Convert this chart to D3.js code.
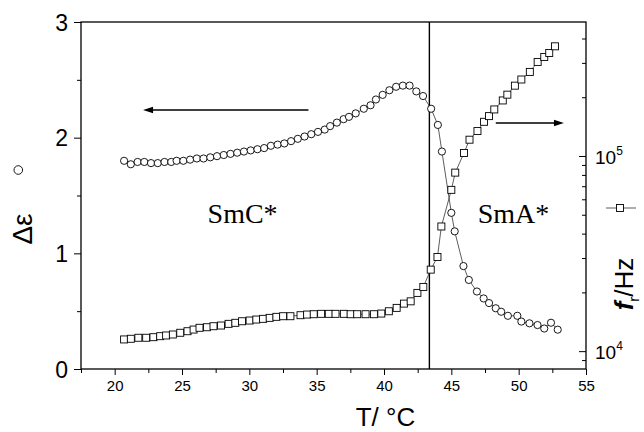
<!DOCTYPE html>
<html>
<head>
<meta charset="utf-8">
<script src="https://cdn.jsdelivr.net/npm/d3@7"></script>
<style>
  html, body { margin: 0; padding: 0; background: #fff; }
  svg { display: block; }
</style>
</head>
<body>
<svg id="chart"></svg>
<script>
// Dielectric strength (circles, left axis) vs temperature
const epsT = [20.7, 21.2, 21.7, 22.2, 22.7, 23.2, 23.7, 24.2, 24.6, 25.1, 25.6, 26.1, 26.6, 27.1,
    27.6, 28.1, 28.6, 29.1, 29.6, 30.1, 30.6, 31.1, 31.6, 32.1, 32.6, 33.1, 33.6, 34.1, 34.6,
    35.1, 35.6, 36.0, 36.5, 37.0, 37.4, 37.9, 38.5, 39.0, 39.4, 39.9, 40.4, 40.9, 41.4, 41.9,
    42.4, 42.9, 43.5, 44.0, 44.3, 45.0, 45.25, 45.9, 46.3, 46.9, 47.4, 47.8, 48.3, 48.7, 49.2,
    49.9, 50.2, 50.8, 51.4, 51.9, 52.4, 52.9];
const epsVal = [1.80, 1.77, 1.79, 1.79, 1.78, 1.78, 1.79, 1.79, 1.80, 1.80, 1.81, 1.82, 1.82, 1.83,
    1.84, 1.85, 1.86, 1.87, 1.88, 1.89, 1.90, 1.91, 1.93, 1.94, 1.95, 1.97, 1.99, 2.01, 2.03,
    2.05, 2.07, 2.10, 2.13, 2.16, 2.18, 2.21, 2.25, 2.28, 2.33, 2.37, 2.41, 2.44, 2.45, 2.45,
    2.40, 2.36, 2.25, 2.11, 1.88, 1.35, 1.19, 0.89, 0.77, 0.67, 0.61, 0.57, 0.525, 0.495, 0.46,
    0.46, 0.41, 0.395, 0.38, 0.35, 0.40, 0.34];

// Relaxation frequency (squares, right log axis) vs temperature
const frT = [20.7, 21.2, 21.76, 22.34, 22.88, 23.38, 23.82, 24.32, 24.87, 25.41, 25.86, 26.3, 26.85,
    27.34, 27.9, 28.46, 28.96, 29.46, 30.02, 30.52, 31.02, 31.51, 32.01, 32.51, 33.05, 33.8, 34.29,
    34.78, 35.33, 35.9, 36.4, 37.02, 37.52, 38.01, 38.63, 39.25, 39.8, 40.36, 40.94, 41.48, 41.98,
    42.48, 42.92, 43.47, 43.97, 44.26, 45.0, 45.29, 45.94, 46.35, 46.94, 47.43, 47.8, 48.19, 48.82,
    49.16, 49.72, 50.2, 50.83, 51.41, 51.9, 52.27, 52.7];
const frVal = [11480, 11570, 11710, 11710, 11790, 11930, 12030, 12170, 12420, 12650, 12900, 13170, 13260,
    13420, 13530, 13800, 13970, 14230, 14350, 14520, 14640, 14810, 14990, 15100, 15100, 15280, 15400,
    15460, 15530, 15530, 15530, 15530, 15460, 15460, 15460, 15460, 15580, 16010, 16660, 17520, 18000,
    19880, 21330, 26160, 30370, 43530, 67060, 82180, 103600, 121200, 134200, 149700, 160100, 173200, 192600,
    206200, 229300, 246600, 269700, 303400, 321700, 337200, 364800];

const xTicks = [20, 25, 30, 35, 40, 45, 50, 55];
const xMinor = [17.5, 22.5, 27.5, 32.5, 37.5, 42.5, 47.5, 52.5];
const yTicks = [0, 1, 2, 3];
const yMinor = [0.5, 1.5, 2.5];
const rTicks = [1e4, 1e5];
const rMinor = [9e3, 2e4, 3e4, 4e4, 5e4, 6e4, 7e4, 8e4, 9e4, 2e5, 3e5, 4e5];

const transitionT = 43.37;

const width = 644, height = 432;
const mLeft = 81, mRight = 586, mTop = 22, mBottom = 369;

const svg = d3.select('#chart').attr('width', width).attr('height', height);

const x = d3.scaleLinear().domain([17.5, 55]).range([mLeft, mRight]);
const yL = d3.scaleLinear().domain([0, 3]).range([mBottom, mTop]);
const yR = d3.scaleLog().domain([8.1e3, 4.86e5]).range([mBottom, mTop]);

const sans = 'Liberation Sans, Arial, sans-serif';
const serif = 'Liberation Serif, Times New Roman, serif';

// frame
svg.append('rect')
    .attr('x', mLeft).attr('y', mTop)
    .attr('width', mRight - mLeft).attr('height', mBottom - mTop)
    .attr('fill', 'none').attr('stroke', '#000').attr('stroke-width', 1.3);

// bottom axis
const gx = svg.append('g').attr('transform', `translate(0,${mBottom})`);
gx.call(d3.axisBottom(x).tickValues(xTicks).tickSize(6).tickPadding(5).tickSizeOuter(0));
gx.append('g').call(d3.axisBottom(x).tickValues(xMinor).tickSize(4).tickFormat('').tickSizeOuter(0));
gx.selectAll('.domain').remove();
gx.selectAll('text').attr('font-family', sans).attr('font-size', 15).attr('fill', '#000');

// left axis
const gl = svg.append('g').attr('transform', `translate(${mLeft},0)`);
gl.call(d3.axisLeft(yL).tickValues(yTicks).tickSize(7).tickPadding(6).tickSizeOuter(0).tickFormat(d3.format('d')));
gl.append('g').call(d3.axisLeft(yL).tickValues(yMinor).tickSize(4).tickFormat('').tickSizeOuter(0));
gl.selectAll('.domain').remove();
gl.selectAll('text').attr('font-family', sans).attr('font-size', 23).attr('fill', '#000').attr('dy', '0.36em');

// right axis (log), ticks pointing inward
const gr = svg.append('g').attr('transform', `translate(${mRight},0)`);
gr.call(d3.axisRight(yR).tickValues(rTicks).tickSize(-7).tickFormat('').tickSizeOuter(0));
gr.append('g').call(d3.axisRight(yR).tickValues(rMinor).tickSize(-4).tickFormat('').tickSizeOuter(0));
gr.selectAll('.domain').remove();
svg.selectAll('.tick line').attr('stroke', '#000');

const rLabels = svg.append('g');
rTicks.forEach(v => {
    const t = rLabels.append('text')
        .attr('x', mRight + 9).attr('y', yR(v) + 8)
        .attr('font-family', sans).attr('font-size', 19);
    t.append('tspan').text('10');
    t.append('tspan').attr('font-size', 12).attr('dy', -9).text(Math.round(Math.log10(v)));
});

// transition line
svg.append('line')
    .attr('x1', x(transitionT)).attr('x2', x(transitionT))
    .attr('y1', mTop).attr('y2', mBottom)
    .attr('stroke', '#000').attr('stroke-width', 1.4);

// data
const epsData = epsT.map((t, i) => ({ t, v: epsVal[i] }));
const frData = frT.map((t, i) => ({ t, v: frVal[i] }));

svg.append('path')
    .datum(epsData)
    .attr('fill', 'none').attr('stroke', '#333').attr('stroke-width', 0.8)
    .attr('d', d3.line().x(d => x(d.t)).y(d => yL(d.v)));

svg.append('path')
    .datum(frData)
    .attr('fill', 'none').attr('stroke', '#333').attr('stroke-width', 0.8)
    .attr('d', d3.line().x(d => x(d.t)).y(d => yR(d.v)));

svg.append('g').selectAll('circle')
    .data(epsData).enter().append('circle')
    .attr('cx', d => x(d.t)).attr('cy', d => yL(d.v)).attr('r', 3.6)
    .attr('fill', '#fff').attr('stroke', '#000').attr('stroke-width', 0.9);

const sq = 7;
svg.append('g').selectAll('rect')
    .data(frData).enter().append('rect')
    .attr('x', d => x(d.t) - sq / 2).attr('y', d => yR(d.v) - sq / 2)
    .attr('width', sq).attr('height', sq)
    .attr('fill', '#fff').attr('stroke', '#000').attr('stroke-width', 0.9);

// arrows (in data units of the left axis)
function arrow(t1, t2, v) {
    const y = yL(v), x1 = x(t1), x2 = x(t2);
    const dir = Math.sign(x2 - x1);
    svg.append('line')
        .attr('x1', x1).attr('x2', x2 - dir * 6).attr('y1', y).attr('y2', y)
        .attr('stroke', '#000').attr('stroke-width', 1.3);
    svg.append('path')
        .attr('d', `M${x2},${y} L${x2 - dir * 10},${y - 3.2} L${x2 - dir * 10},${y + 3.2} Z`)
        .attr('fill', '#000');
}
arrow(34.39, 22.11, 2.239);
arrow(48.3, 53.36, 2.127);

// phase labels
svg.append('text').attr('x', x(26.9)).attr('y', yL(1.26))
    .attr('font-family', serif).attr('font-size', 28).text('SmC*');
svg.append('text').attr('x', x(46.96)).attr('y', yL(1.26))
    .attr('font-family', serif).attr('font-size', 28).text('SmA*');

// axis titles
svg.append('text')
    .attr('x', (mLeft + mRight) / 2 + 52).attr('y', 426)
    .attr('text-anchor', 'middle')
    .attr('font-family', sans).attr('font-size', 26).text('T/ °C');

svg.append('text')
    .attr('transform', 'translate(32,229) rotate(-90)')
    .attr('text-anchor', 'middle')
    .attr('font-family', sans).attr('font-size', 28).text('Δε');

svg.append('circle')
    .attr('cx', 18.3).attr('cy', 170).attr('r', 4.3)
    .attr('fill', '#fff').attr('stroke', '#000').attr('stroke-width', 0.9);

const fr = svg.append('text')
    .attr('transform', 'translate(633,284) rotate(-90)')
    .attr('text-anchor', 'middle')
    .attr('font-family', sans).attr('font-size', 26);
fr.append('tspan').attr('font-style', 'italic').attr('font-weight', 'bold').text('f');
fr.append('tspan').attr('font-size', 15).attr('dy', 6).text('r');
fr.append('tspan').attr('dy', -6).text('/Hz');

svg.append('line')
    .attr('x1', 606).attr('x2', 636).attr('y1', 208).attr('y2', 208)
    .attr('stroke', '#333').attr('stroke-width', 0.8);
svg.append('rect')
    .attr('x', 620 - sq / 2).attr('y', 208 - sq / 2).attr('width', sq).attr('height', sq)
    .attr('fill', '#fff').attr('stroke', '#000').attr('stroke-width', 0.9);
</script>
</body>
</html>
